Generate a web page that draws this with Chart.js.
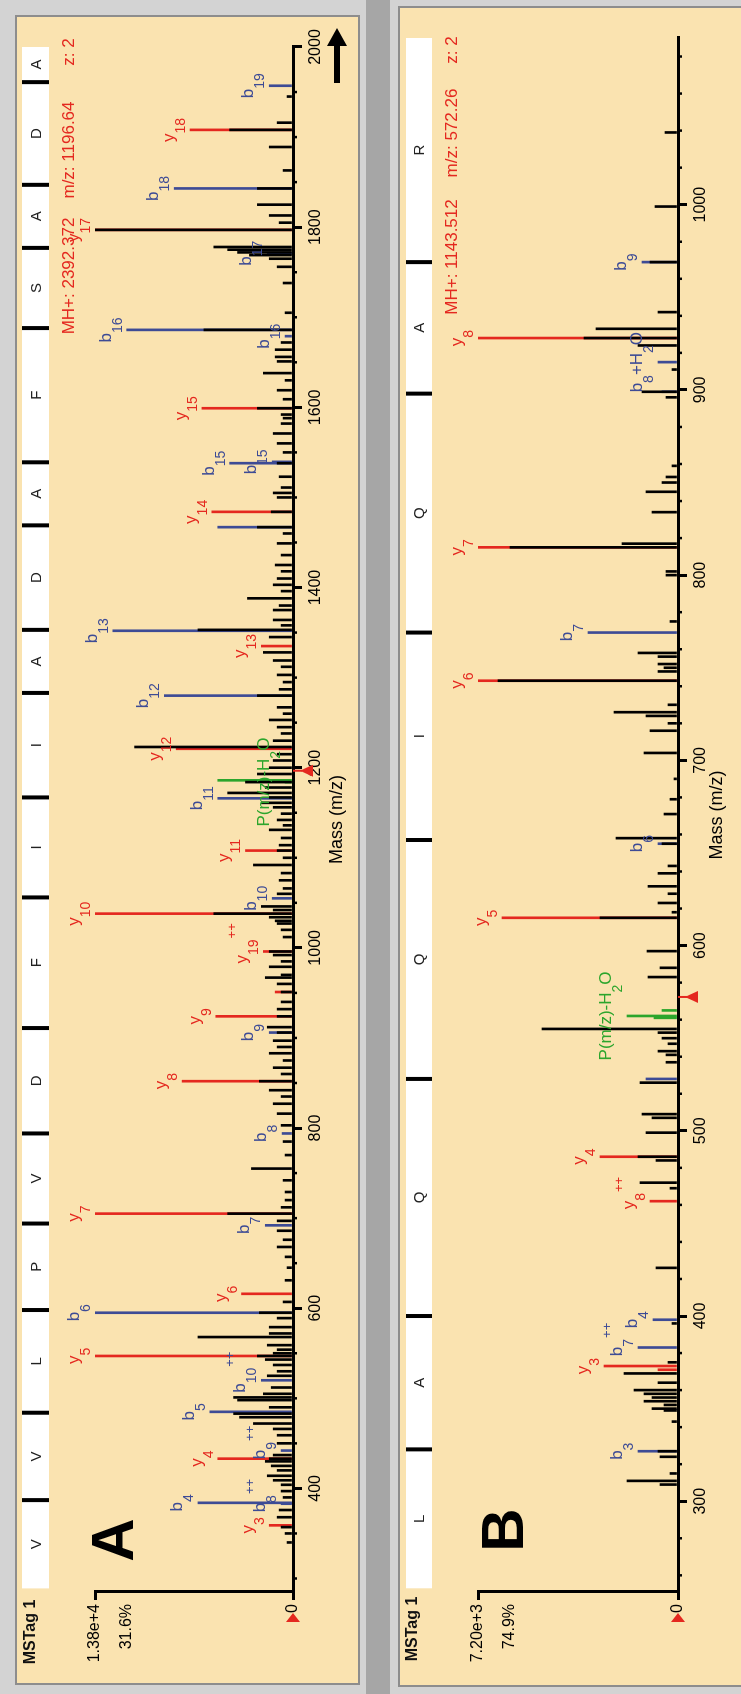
<!DOCTYPE html>
<html>
<head>
<meta charset="utf-8">
<script src="https://cdn.jsdelivr.net/npm/chart.js@4/dist/chart.umd.min.js"></script>
<style>
html, body { margin: 0; padding: 0; overflow: hidden; }
body { width: 741px; height: 1694px; background: #a6a6a6; position: relative; }
.box { position: absolute; background: #d3d3d3; }
.tan { position: absolute; background: #fae3b0; box-shadow: 0 0 0 2px #8d8d8d; }
#boxA { left: 0; top: 0; width: 366px; height: 1694px; }
#tanA { left: 17px; top: 17px; width: 341px; height: 1666px; }
#boxB { left: 390px; top: 0; width: 351px; height: 1694px; }
#tanB { left: 400px; top: 8px; width: 341px; height: 1677px; }
canvas { position: absolute; top: 0; transform-origin: 0 0; transform: translate(0, 1694px) rotate(-90deg); }
#chartA { left: 0; }
#chartB { left: 385px; }
</style>
</head>
<body>
<div class="box" id="boxA"></div>
<div class="tan" id="tanA"></div>
<div class="box" id="boxB"></div>
<div class="tan" id="tanB"></div>
<canvas id="chartA" width="1694" height="370"></canvas>
<canvas id="chartB" width="1694" height="356"></canvas>
<script>
// ---------- Panel A data ----------
const aHeader = ['MH+: 2392.372', 'm/z: 1196.64', 'z: 2'];
const aMassRange = [285, 2000];
const aMassTicks = [400, 600, 800, 1000, 1200, 1400, 1600, 1800, 2000];
const aTopTick = '1.38e+4';
const aTopPct = '31.6%';
const aPrecursor = 1196.64;
const aSequence = ['V', 'V', 'L', 'P', 'V', 'D', 'F', 'I', 'I', 'A', 'D', 'A', 'F', 'S', 'A', 'D', 'A'];
const aSeqSpan = [289, 2000];
const aSeqBreaks = [387, 484, 598, 694, 794, 911, 1056, 1167, 1283, 1353, 1469, 1539, 1688, 1777, 1847, 1961];

// unassigned (black) peaks, % of axis top
const aPeakMz = [1945, 1916, 1908, 1889, 1863, 1843, 1825, 1813, 1805, 1797, 1778, 1775, 1772, 1769, 1765, 1756, 1738,
  1705, 1686, 1672, 1664, 1656, 1651, 1638, 1630, 1619, 1609, 1599, 1592, 1588, 1582, 1571, 1560, 1550, 1538, 1523,
  1511, 1505, 1500, 1484, 1467, 1460, 1449, 1436, 1425, 1418, 1410, 1403, 1396, 1388, 1380, 1375, 1364, 1358, 1353,
  1345, 1328, 1319, 1312, 1303, 1295, 1287, 1280, 1267, 1260, 1253, 1245, 1238, 1230, 1223, 1215, 1208, 1200, 1193,
  1184, 1178, 1172, 1167, 1161, 1156, 1149, 1142, 1136, 1131, 1122, 1114, 1108, 1100, 1092, 1083, 1075, 1066, 1060,
  1046, 1042, 1038, 1034, 1030, 1027, 1020, 1012, 996, 992, 985, 979, 970, 967, 960, 951, 940, 932, 924, 912, 906,
  897, 890, 883, 875, 867, 860, 852, 842, 835, 827, 816, 803, 785, 770, 755, 742, 729, 720, 712, 705, 697, 686, 676,
  668, 657, 645, 631, 607, 595, 589, 579, 572, 568, 559, 554, 550, 547, 543, 537, 530, 525, 512, 505, 501, 498, 490,
  483, 479, 472, 466, 459, 450, 437, 433, 430, 425, 420, 414, 409, 404, 397, 390, 376, 368, 357, 350, 340];
const aPeakInt = [3, 8, 32, 12, 5, 18, 18, 12, 7, 100, 40, 33, 28, 22, 12, 8, 5,
  4, 45, 6, 9, 9, 8, 15, 4, 8, 5, 18, 6, 5, 6, 10, 8, 5, 8, 7,
  6, 10, 8, 11, 18, 5, 8, 6, 9, 6, 8, 10, 6, 23, 7, 10, 10, 6, 48,
  12, 15, 10, 6, 8, 5, 7, 18, 8, 5, 12, 8, 6, 10, 80, 8, 10, 12, 18,
  24, 14, 33, 12, 16, 10, 6, 8, 5, 12, 6, 7, 8, 5, 20, 6, 7, 5, 8,
  16, 10, 40, 12, 9, 8, 6, 5, 12, 10, 6, 12, 6, 14, 8, 6, 6, 8, 8, 13, 8,
  10, 8, 12, 5, 10, 6, 17, 12, 6, 10, 8, 6, 5, 4, 21, 5, 4, 4, 6, 33, 8, 8, 5,
  8, 4, 3, 4, 5, 17, 8, 12, 12, 48, 13, 8, 10, 18, 14, 10, 8, 13, 11, 15, 30, 28, 12,
  30, 27, 20, 10, 8, 8, 10, 12, 14, 11, 8, 13, 10, 6, 6, 5, 7, 8, 6, 4, 3];

// y ions (red)
const aYMz = [359, 433, 547, 616, 705, 852, 924, 951, 996, 1038, 1108, 1221, 1335, 1484, 1599, 1797, 1908];
const aYInt = [12, 38, 100, 26, 100, 56, 39, 9, 15, 100, 24, 59, 16, 41, 46, 100, 52];
const aYLabels = ['y_3', 'y_4', 'y_5', 'y_6', 'y_7', 'y_8', 'y_9', '', 'y_19^++', 'y_10', 'y_11', 'y_12', 'y_13',
  'y_14', 'y_15', 'y_17', 'y_18'];

// b ions (blue)
const aBMz = [383, 384, 442, 485, 520, 595, 692, 794, 906, 1055, 1166, 1280, 1352, 1467, 1538, 1539.5, 1679, 1686,
  1771, 1843, 1957];
const aBInt = [6, 48, 6, 42, 16, 100, 14, 5.5, 12, 10.5, 38, 65, 91, 38, 32, 10.5, 4, 84, 13, 60, 12];
const aBLabels = ['b_8^++', 'b_4', 'b_9^++', 'b_5', 'b_10^++', 'b_6', 'b_7', 'b_8', 'b_9', 'b_10', 'b_11', 'b_12',
  'b_13', '', 'b_15', 'b_15', 'b_16', 'b_16', 'b_17', 'b_18', 'b_19'];

// precursor water loss (green)
const aGMz = [1184, 1186];
const aGInt = [4, 38];
const aGLabels = ['P(m/z)-H_2O', ''];

// ---------- Panel B data ----------
const bHeader = ['MH+: 1143.512', 'm/z: 572.26', 'z: 2'];
const bMassRange = [251, 1090];
const bMassTicks = [300, 400, 500, 600, 700, 800, 900, 1000];
const bTopTick = '7.20e+3';
const bTopPct = '74.9%';
const bPrecursor = 572.26;
const bSequence = ['L', 'A', 'Q', 'Q', 'I', 'Q', 'A', 'R'];
const bSeqSpan = [253, 1090];
const bSeqBreaks = [328, 400, 528, 657, 769, 898, 969];

const bPeakMz = [1039, 999, 969, 942, 933, 928, 924, 911, 899, 896, 859, 853, 850, 845, 834, 817, 815, 802, 800,
  775, 758, 756, 752, 750, 748, 743, 730, 726, 724, 720, 716, 704, 690, 679, 671, 658, 655, 643, 639, 632, 628,
  623, 618, 615, 597, 588, 583, 555, 553, 550, 547, 543, 541, 537, 526, 509, 507, 499, 486, 484, 472, 469, 426,
  396, 375, 369, 364, 360, 358, 356, 354, 352, 350, 349, 343, 327, 324, 315, 311, 309];
const bPeakInt = [6.5, 11.5, 14, 10, 41, 47, 20, 3, 18, 6, 3, 6, 8, 16, 13, 28, 84, 6, 6,
  4, 20, 10, 10, 7, 10, 90, 5, 32, 16, 5, 14, 17, 2, 4, 7, 31, 8, 5, 10, 15, 5,
  10, 3, 39, 15.5, 9, 15, 68, 10, 8, 5, 10, 6, 6, 19, 18, 13, 16, 20, 11, 19, 4, 11,
  3, 5, 27, 10, 22, 17, 13, 17, 7, 13, 7, 3, 10, 9, 4, 25.5, 9];

const bYMz = [371, 373, 462, 486, 615, 743, 815, 928];
const bYInt = [10, 37, 14, 39, 88, 100, 100, 100];
const bYLabels = ['', 'y_3', 'y_8^++', 'y_4', 'y_5', 'y_6', 'y_7', 'y_8'];

const bBMz = [327, 383, 398, 528, 655, 769, 899, 915, 969];
const bBInt = [20, 20, 12.5, 16, 10, 45, 8, 10, 18];
const bBLabels = ['b_3', 'b_7^++', 'b_4', '', 'b_6', 'b_7', '', 'b_8+H_2O', 'b_9'];

const bGMz = [561, 562, 565];
const bGInt = [12, 25.5, 8];
const bGLabels = ['', 'P(m/z)-H_2O', ''];

// ---------- drawing ----------
const FONT = '"Liberation Sans", Arial, Helvetica, sans-serif';
const RED = '#e4281f';
const BLUE = '#3d4b95';
const GREEN = '#2ca52c';
Chart.defaults.font.family = FONT;

function toPoints(mz, inten) {
  return mz.map((m, i) => ({ x: m, y: inten[i] }));
}

// label like "y_10^++": "_" starts a subscript, "^" a superscript
function drawIonLabel(ctx, text, x, top, color) {
  const parts = text.match(/_\d+|\^\++|[^_^]+/g);
  const fonts = { n: '17px ' + FONT, s: '14px ' + FONT, p: '13px ' + FONT };
  const kind = t => t[0] === '_' ? 's' : (t[0] === '^' ? 'p' : 'n');
  let width = 0;
  parts.forEach(t => {
    const k = kind(t);
    if (k === 'p') return;
    ctx.font = fonts[k];
    width += ctx.measureText(k === 'n' ? t : t.slice(1)).width;
  });
  const subBase = top - 5, mainBase = subBase - 11, supBase = mainBase - 11;
  let cx = x - width / 2;
  ctx.fillStyle = color;
  ctx.textAlign = 'left';
  ctx.textBaseline = 'alphabetic';
  parts.forEach(t => {
    const k = kind(t);
    const s = k === 'n' ? t : t.slice(1);
    ctx.font = fonts[k];
    ctx.fillText(s, cx + (k === 'p' ? 1 : 0), k === 'n' ? mainBase : (k === 's' ? subBase : supBase));
    cx += ctx.measureText(s).width;
  });
}

function decorPlugin(p) {
  const L = p.box;
  return {
    id: 'decor',
    beforeDatasetsDraw(chart) {
      const { ctx, chartArea: a, scales: { x } } = chart;
      ctx.save();
      // sequence strip, residues between the b-ion breaks
      const s0 = x.getPixelForValue(p.seqSpan[0]);
      const s1 = x.getPixelForValue(p.seqSpan[1]);
      const h = L.stripBottom - L.stripTop;
      ctx.fillStyle = '#fff';
      ctx.fillRect(s0, L.stripTop, s1 - s0, h);
      ctx.fillStyle = '#000';
      p.seqBreaks.forEach(m => ctx.fillRect(x.getPixelForValue(m) - 2, L.stripTop, 4, h));
      const edges = [p.seqSpan[0], ...p.seqBreaks, p.seqSpan[1]];
      ctx.font = '15px ' + FONT;
      ctx.textAlign = 'center';
      ctx.textBaseline = 'middle';
      ctx.fillStyle = '#222';
      p.sequence.forEach((r, i) => {
        ctx.fillText(r, x.getPixelForValue((edges[i] + edges[i + 1]) / 2), L.stripTop + h / 2 + 1);
      });
      // minor ticks
      ctx.strokeStyle = '#000';
      ctx.lineWidth = 2.5;
      for (let v = Math.ceil(p.range[0] / p.minorStep) * p.minorStep; v < p.range[1]; v += p.minorStep) {
        if (p.ticks.includes(v)) continue;
        const px = x.getPixelForValue(v);
        ctx.beginPath();
        ctx.moveTo(px, a.bottom);
        ctx.lineTo(px, a.bottom + 4);
        ctx.stroke();
      }
      // precursor marker under the mass axis
      const pm = x.getPixelForValue(p.precursor);
      ctx.fillStyle = RED;
      ctx.fillRect(pm - 1, a.bottom, 2, 9);
      ctx.beginPath();
      ctx.moveTo(pm, a.bottom + 7);
      ctx.lineTo(pm - 6, a.bottom + 20);
      ctx.lineTo(pm + 6, a.bottom + 20);
      ctx.closePath();
      ctx.fill();
      ctx.restore();
    },
    afterDatasetsDraw(chart) {
      const { ctx, chartArea: a } = chart;
      ctx.save();
      chart.data.datasets.forEach((ds, i) => {
        if (!ds.ionLabels) return;
        chart.getDatasetMeta(i).data.forEach((bar, j) => {
          const t = ds.ionLabels[j];
          if (t) drawIonLabel(ctx, t, bar.x, bar.y, ds.backgroundColor);
        });
      });
      // header
      ctx.fillStyle = RED;
      ctx.font = '17px ' + FONT;
      ctx.textAlign = 'center';
      ctx.textBaseline = 'alphabetic';
      p.header.forEach((t, i) => ctx.fillText(t, L.headerX[i], L.headerY));
      // panel letter and tag
      ctx.fillStyle = '#000';
      ctx.font = 'bold 60px ' + FONT;
      ctx.fillText(L.letter.text, L.letter.x, L.letter.y);
      ctx.font = 'bold 16px ' + FONT;
      ctx.fillStyle = '#111';
      ctx.fillText('MSTag 1', L.tag.x, L.tag.y);
      // percent under the top intensity tick
      ctx.font = '16px ' + FONT;
      ctx.textAlign = 'right';
      ctx.fillStyle = '#000';
      ctx.fillText(p.topPct, a.left - 12, a.top + 36);
      // red origin marker
      ctx.fillStyle = RED;
      ctx.beginPath();
      ctx.moveTo(a.left - 21, a.bottom);
      ctx.lineTo(a.left - 30, a.bottom - 7);
      ctx.lineTo(a.left - 30, a.bottom + 7);
      ctx.closePath();
      ctx.fill();
      // "more" arrow past the axis end
      if (L.arrow) {
        const cy = a.bottom + 44;
        ctx.fillStyle = '#000';
        ctx.fillRect(a.right - 36, cy - 3, 38, 6);
        ctx.beginPath();
        ctx.moveTo(a.right + 19, cy);
        ctx.lineTo(a.right + 1, cy - 10);
        ctx.lineTo(a.right + 1, cy + 10);
        ctx.closePath();
        ctx.fill();
      }
      ctx.restore();
    }
  };
}

function buildPanel(canvasId, p) {
  const ctx = document.getElementById(canvasId).getContext('2d');
  const axisFont = { size: 16, family: FONT };
  return new Chart(ctx, {
    type: 'bar',
    data: {
      datasets: [
        { data: toPoints(p.peakMz, p.peakInt), backgroundColor: '#000', order: 0 },
        { data: toPoints(p.yMz, p.yInt), backgroundColor: RED, ionLabels: p.yLabels, order: 1 },
        { data: toPoints(p.bMz, p.bInt), backgroundColor: BLUE, ionLabels: p.bLabels, order: 1 },
        { data: toPoints(p.gMz, p.gInt), backgroundColor: GREEN, ionLabels: p.gLabels, order: 1 }
      ]
    },
    options: {
      responsive: false,
      animation: false,
      devicePixelRatio: 1,
      layout: { padding: p.box.padding },
      datasets: { bar: { barThickness: 2, grouped: false, borderWidth: 0 } },
      plugins: { legend: { display: false }, tooltip: { enabled: false } },
      scales: {
        x: {
          type: 'linear',
          min: p.range[0],
          max: p.range[1],
          offset: false,
          afterBuildTicks: s => { s.ticks = p.ticks.map(v => ({ value: v })); },
          afterFit: s => { s.height = p.box.xAxisH; },
          grid: { drawOnChartArea: false, tickLength: 9, lineWidth: 3, color: '#000', offset: false },
          border: { display: true, color: '#000', width: 3 },
          ticks: { color: '#000', font: axisFont, padding: 4, maxRotation: 0, autoSkip: false, callback: v => String(v) },
          title: { display: true, text: 'Mass (m/z)', color: '#000', font: { size: 18, family: FONT }, padding: 0 }
        },
        y: {
          min: 0,
          max: 100,
          afterBuildTicks: s => { s.ticks = [{ value: 0 }, { value: 100 }]; },
          afterFit: s => { s.width = 72; },
          grid: { drawOnChartArea: false, tickLength: 8, lineWidth: 3, color: '#000' },
          border: { display: true, color: '#000', width: 3 },
          ticks: { color: '#000', font: axisFont, padding: 4, callback: v => v === 100 ? p.topTick : (v === 0 ? '0' : '') }
        }
      }
    },
    plugins: [decorPlugin(p)]
  });
}

buildPanel('chartA', {
  header: aHeader, range: aMassRange, ticks: aMassTicks, minorStep: 50, topTick: aTopTick, topPct: aTopPct,
  precursor: aPrecursor, sequence: aSequence, seqSpan: aSeqSpan, seqBreaks: aSeqBreaks,
  peakMz: aPeakMz, peakInt: aPeakInt, yMz: aYMz, yInt: aYInt, yLabels: aYLabels,
  bMz: aBMz, bInt: aBInt, bLabels: aBLabels, gMz: aGMz, gInt: aGInt, gLabels: aGLabels,
  box: {
    padding: { left: 30, right: 47, top: 95, bottom: 22 }, xAxisH: 55, stripTop: 22, stripBottom: 49,
    headerX: [1418, 1544, 1642], headerY: 74, tag: { x: 62, y: 35 }, letter: { text: 'A', x: 154, y: 133 }, arrow: true
  }
});

buildPanel('chartB', {
  header: bHeader, range: bMassRange, ticks: bMassTicks, minorStep: 20, topTick: bTopTick, topPct: bTopPct,
  precursor: bPrecursor, sequence: bSequence, seqSpan: bSeqSpan, seqBreaks: bSeqBreaks,
  peakMz: bPeakMz, peakInt: bPeakInt, yMz: bYMz, yInt: bYInt, yLabels: bYLabels,
  bMz: bBMz, bInt: bBInt, bLabels: bBLabels, gMz: bGMz, gInt: bGInt, gLabels: bGLabels,
  box: {
    padding: { left: 30, right: 38, top: 93, bottom: 13 }, xAxisH: 50, stripTop: 21, stripBottom: 47,
    headerX: [1437, 1561, 1644], headerY: 72, tag: { x: 65, y: 32 }, letter: { text: 'B', x: 164, y: 138 }, arrow: false
  }
});
</script>
</body>
</html>
